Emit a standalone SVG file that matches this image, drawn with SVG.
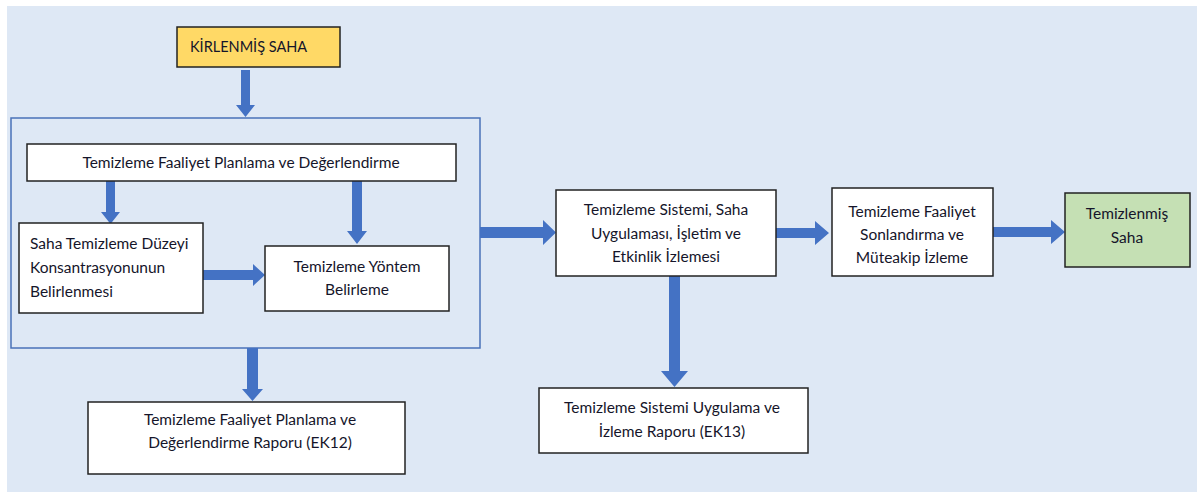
<svg xmlns="http://www.w3.org/2000/svg" width="1201" height="493" viewBox="0 0 1201 493">
<defs>
<style>
.box{fill:#fff;stroke:#222;stroke-width:1.5}
.t{font-family:Lato,"Open Sans","Liberation Sans",sans-serif;font-size:15.5px;fill:#15152a;text-anchor:middle}
.l{text-anchor:start}
.arr{fill:#4472C4}
</style>
</defs>
<rect x="0" y="0" width="1201" height="493" fill="#fff"/>
<rect x="7" y="6" width="1190" height="486" fill="#DEE8F5"/>
<rect id="frame" x="11" y="118" width="469" height="230" fill="none" stroke="#4A72B8" stroke-width="1.5"/>
<g id="connectors">
<polygon class="arr" points="241,70 250,70 250,105 255,105 245.5,117 236,105 241,105"/>
<polygon class="arr" points="106,181 115,181 115,212 120,212 110.5,224 101,212 106,212"/>
<polygon class="arr" points="352,181 362,181 362,231 367,231 357,244 347,231 352,231"/>
<polygon class="arr" points="203,270 253,270 253,264 265,275 253,286 253,280 203,280"/>
<polygon class="arr" points="247,348 258,348 258,389 263,389 252.5,401 242,389 247,389"/>
<polygon class="arr" points="480,227 543,227 543,220 556,232.5 543,245 543,238 480,238"/>
<polygon class="arr" points="776,228 815,228 815,221 829,233 815,245 815,238 776,238"/>
<polygon class="arr" points="993,227 1051,227 1051,220 1065,232 1051,244 1051,237 993,237"/>
<polygon class="arr" points="669,276 680,276 680,371 688,371 674.5,387 661,371 669,371"/>
</g>
<g id="kirlenmis">
<rect x="177" y="27" width="163" height="40" fill="#FFD966" stroke="#222" stroke-width="1.5"/>
<text class="t l" x="190" y="52" style="font-size:14.5px">KİRLENMİŞ SAHA</text>
</g>
<g id="planlama">
<rect class="box" x="27" y="144" width="429" height="37"/>
<text class="t" x="241" y="168">Temizleme Faaliyet Planlama ve Değerlendirme</text>
</g>
<g id="duzey">
<rect class="box" x="19" y="223" width="184" height="90"/>
<text class="t l" x="30" y="249">Saha Temizleme Düzeyi</text>
<text class="t l" x="30" y="273">Konsantrasyonunun</text>
<text class="t l" x="30" y="297">Belirlenmesi</text>
</g>
<g id="yontem">
<rect class="box" x="265" y="246" width="184" height="65"/>
<text class="t" x="357" y="272">Temizleme Yöntem</text>
<text class="t" x="357" y="295">Belirleme</text>
</g>
<g id="ek12">
<rect class="box" x="88" y="402" width="317" height="72"/>
<text class="t" x="250" y="425">Temizleme Faaliyet Planlama ve</text>
<text class="t" x="250" y="448">Değerlendirme Raporu (EK12)</text>
</g>
<g id="sistem">
<rect class="box" x="556" y="190" width="220" height="86"/>
<text class="t" x="666" y="215">Temizleme Sistemi, Saha</text>
<text class="t" x="666" y="239">Uygulaması, İşletim ve</text>
<text class="t" x="666" y="262">Etkinlik İzlemesi</text>
</g>
<g id="ek13">
<rect class="box" x="539" y="388" width="269" height="65"/>
<text class="t" x="672" y="413">Temizleme Sistemi Uygulama ve</text>
<text class="t" x="672" y="437">İzleme Raporu (EK13)</text>
</g>
<g id="sonlandirma">
<rect class="box" x="832" y="188" width="161" height="88"/>
<text class="t" x="912" y="217">Temizleme Faaliyet</text>
<text class="t" x="912" y="240">Sonlandırma ve</text>
<text class="t" x="912" y="263">Müteakip İzleme</text>
</g>
<g id="temizlenmis">
<rect x="1065" y="193" width="125" height="74" fill="#C5E0B4" stroke="#222" stroke-width="1.5"/>
<text class="t" x="1127" y="219">Temizlenmiş</text>
<text class="t" x="1127" y="243">Saha</text>
</g>
</svg>
